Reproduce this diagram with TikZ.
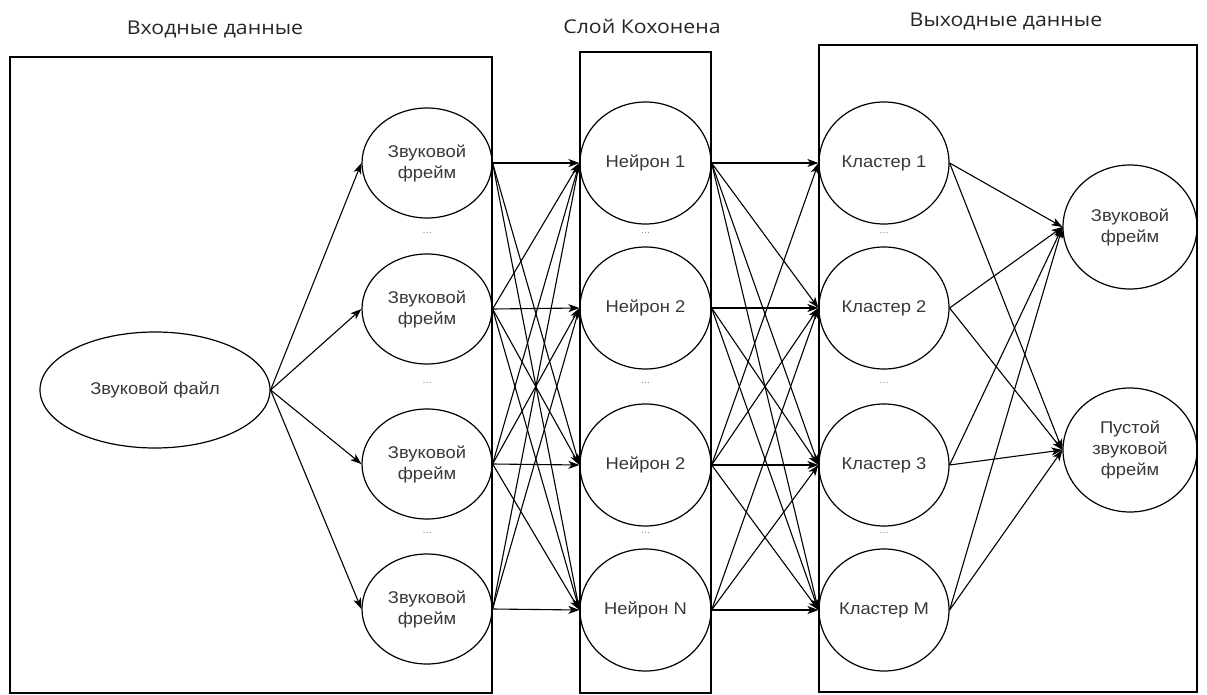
\documentclass[tikz,border=0pt]{standalone}
\usepackage{fontspec}
\setmainfont{Liberation Sans}
\newfontfamily\titlefont[FakeStretch=1.12]{Open Sans}
\newfontfamily\nodefont[FakeStretch=1.08]{Liberation Sans}
\usetikzlibrary{shapes.geometric,arrows.meta}
\begin{document}
\begin{tikzpicture}[x=1pt,y=-1pt,
  grp/.style={draw, line width=2.6pt},
  ell/.style={draw, ellipse, line width=1.2pt, inner sep=0pt, align=center,
    font=\nodefont\fontsize{17}{21}\selectfont, text=black!78},
  frm/.style={ell, minimum width=130pt, minimum height=110pt},
  neu/.style={ell, minimum width=131pt, minimum height=122pt},
  arr/.style={-{Stealth[length=11pt,width=8pt,inset=3pt]}, line width=1.1pt},
  ttl/.style={font=\titlefont\fontsize{19}{22}\selectfont, text=black!85},
  dts/.style={font=\nodefont\fontsize{10}{10}\selectfont, text=black!45}
]
\useasboundingbox (0,0) rectangle (1207,695);

% group boxes
\draw[grp] (10,57) rectangle (492,693);
\draw[grp] (580,52) rectangle (711,693);
\draw[grp] (819,45) rectangle (1197,692);

% titles
\node[ttl] (t1) at (215,29) {Входные данные};
\node[ttl] (t2) at (642,26) {Слой Кохонена};
\node[ttl] (t3) at (1006,21) {Выходные данные};

% input file
\node[ell, minimum width=230pt, minimum height=116pt] (file) at (155,390) {Звуковой файл};

% frames
\node[frm] (f1) at (427,163) {Звуковой\\фрейм};
\node[frm] (f2) at (427,309) {Звуковой\\фрейм};
\node[frm] (f3) at (427,464) {Звуковой\\фрейм};
\node[frm] (f4) at (427,609) {Звуковой\\фрейм};

% neurons
\node[neu] (n1) at (645.5,163) {Нейрон 1};
\node[neu] (n2) at (645.5,308) {Нейрон 2};
\node[neu] (n3) at (645.5,465) {Нейрон 2};
\node[neu] (n4) at (645.5,610) {Нейрон N};

% clusters
\node[neu, minimum width=130pt] (c1) at (884,163) {Кластер 1};
\node[neu, minimum width=130pt] (c2) at (884,308) {Кластер 2};
\node[neu, minimum width=130pt] (c3) at (884,465) {Кластер 3};
\node[neu, minimum width=130pt] (c4) at (884,610) {Кластер M};

% outputs
\node[ell, minimum width=134pt, minimum height=124pt] (o1) at (1130,227) {Звуковой\\фрейм};
\node[ell, minimum width=134pt, minimum height=124pt] (o2) at (1130,450) {Пустой\\звуковой\\фрейм};

% dots
\foreach \xx/\nm in {427/a,645.5/b,884/c}{
  \node[dts] (d\nm1) at (\xx,233) {...};
  \node[dts] (d\nm2) at (\xx,383) {...};
  \node[dts] (d\nm3) at (\xx,533) {...};
}

% file -> frames
\foreach \f in {f1,f2,f3,f4}
  \draw[arr] (file.east) -- (\f.west);

% frames -> neurons
\foreach \a/\b in {f1/n1,f1/n3,f1/n4,f2/n1,f2/n2,f2/n3,f2/n4,f3/n1,f3/n2,f3/n3,f3/n4,f4/n1,f4/n2,f4/n4}
  \draw[arr] (\a.east) -- (\b.west);

% neurons -> clusters
\foreach \a/\b in {n1/c1,n1/c2,n1/c3,n1/c4,n2/c2,n2/c3,n2/c4,n3/c1,n3/c2,n3/c3,n3/c4,n4/c2,n4/c3,n4/c4}
  \draw[arr] (\a.east) -- (\b.west);

% clusters -> outputs
\foreach \a in {c1,c2,c3,c4}{
  \draw[arr] (\a.east) -- (o1.west);
  \draw[arr] (\a.east) -- (o2.west);
}
\end{tikzpicture}
\end{document}
